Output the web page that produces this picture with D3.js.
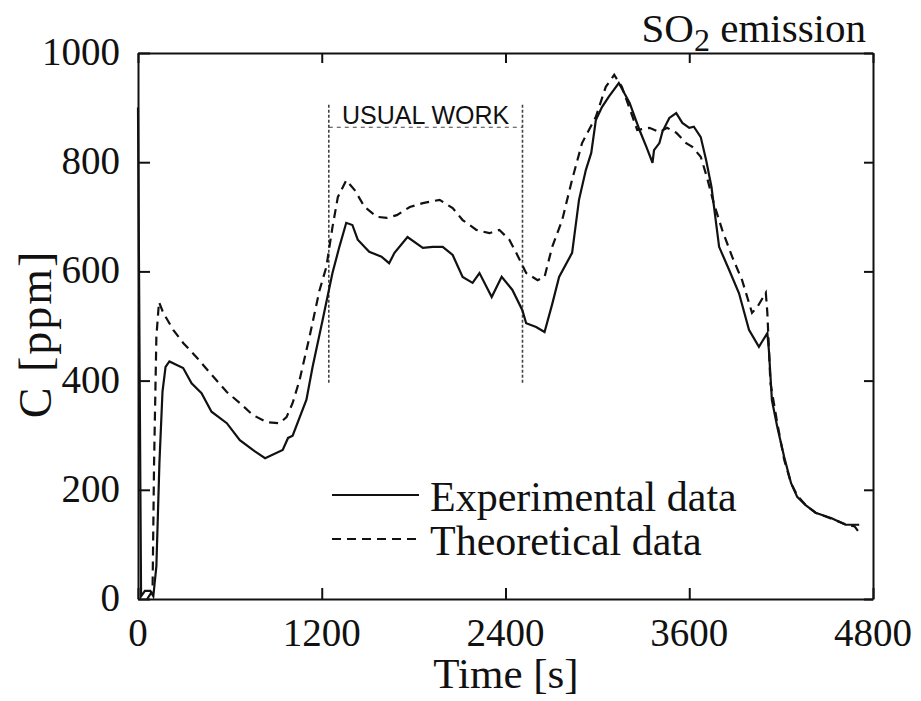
<!DOCTYPE html>
<html>
<head>
<meta charset="utf-8">
<script src="https://cdn.jsdelivr.net/npm/d3@7"></script>
<style>
  body { margin: 0; background: #fff; }
  svg { display: block; }
  .serif { font-family: "Liberation Serif", "DejaVu Serif", serif; fill: #111; }
</style>
</head>
<body>
<svg id="chart" width="921" height="701"></svg>
<script>
// experimental (solid) curve
var timeExp = [0, 20, 45, 80, 100, 120, 140, 160, 180, 205, 295, 350, 415, 480, 580, 665, 750, 830, 945, 980, 1010, 1100, 1140, 1205, 1270, 1315, 1360, 1400, 1435, 1510, 1590, 1640, 1675, 1760, 1860, 1925, 1990, 2055, 2120, 2185, 2230, 2310, 2375, 2445, 2510, 2535, 2600, 2655, 2705, 2750, 2835, 2880, 2925, 2960, 2990, 3030, 3075, 3140, 3210, 3275, 3320, 3360, 3370, 3405, 3425, 3470, 3515, 3555, 3600, 3630, 3675, 3710, 3745, 3795, 3860, 3925, 3990, 4055, 4110, 4120, 4140, 4175, 4220, 4265, 4305, 4360, 4425, 4530, 4620, 4710];
var concExp = [900, 5, 15, 15, 5, 60, 250, 380, 425, 435, 423, 395, 377, 343, 322, 291, 273, 258, 273, 295, 299, 365, 425, 510, 597, 645, 689, 685, 658, 636, 627, 615, 634, 663, 643, 645, 645, 630, 590, 579, 597, 553, 590, 566, 529, 505, 498, 489, 540, 590, 634, 731, 786, 817, 877, 901, 920, 945, 909, 859, 828, 799, 822, 835, 856, 881, 890, 872, 863, 865, 846, 804, 755, 645, 603, 560, 493, 462, 487, 456, 364, 315, 260, 212, 187, 172, 158, 148, 136, 136];

// theoretical (dashed) curve
var timeTheo = [60, 95, 105, 120, 137, 165, 230, 295, 385, 470, 580, 665, 750, 840, 925, 970, 1010, 1055, 1120, 1185, 1230, 1270, 1305, 1360, 1415, 1480, 1560, 1625, 1690, 1775, 1860, 1970, 2055, 2120, 2210, 2295, 2360, 2425, 2470, 2535, 2610, 2655, 2705, 2770, 2835, 2900, 2990, 3055, 3110, 3160, 3230, 3260, 3340, 3405, 3455, 3515, 3580, 3620, 3675, 3715, 3760, 3815, 3880, 3945, 4010, 4045, 4100, 4110, 4130, 4175, 4220, 4265, 4305, 4360, 4425, 4530, 4620, 4680, 4720];
var concTheo = [0, 15, 250, 480, 544, 524, 493, 469, 442, 414, 379, 359, 337, 324, 322, 333, 359, 401, 480, 565, 608, 681, 736, 767, 749, 718, 700, 698, 703, 718, 725, 731, 716, 694, 676, 670, 676, 658, 634, 597, 584, 590, 645, 694, 768, 835, 883, 938, 960, 938, 883, 859, 863, 855, 863, 854, 835, 828, 810, 773, 725, 676, 627, 584, 524, 535, 561, 524, 396, 322, 255, 212, 190, 172, 158, 147, 137, 133, 118];

var xTicks = [0, 1200, 2400, 3600, 4800];
var yTicks = [0, 200, 400, 600, 800, 1000];

// "USUAL WORK" window
var workStart = 1246, workEnd = 2511;
var workTop = 905, workLine = 864, workBottom = 395;

var seriesNames = ["Experimental data", "Theoretical data"];

var svg = d3.select("#chart");

var x = d3.scaleLinear().domain([0, 4800]).range([138, 873]);
var y = d3.scaleLinear().domain([0, 1000]).range([599, 53]);

var expData = timeExp.map(function(t, i){ return {t: t, c: concExp[i]}; });
var theoData = timeTheo.map(function(t, i){ return {t: t, c: concTheo[i]}; });

var line = d3.line()
  .x(function(d){ return x(d.t); })
  .y(function(d){ return y(d.c); });

// frame with inward ticks on all four sides
var axisStyle = function(g){
  g.select(".domain").attr("stroke", "#111").attr("stroke-width", 2);
  g.selectAll(".tick line").attr("stroke", "#111").attr("stroke-width", 2);
  g.selectAll("text").remove();
};

svg.append("g").attr("transform", "translate(0,599)")
  .call(d3.axisBottom(x).tickValues(xTicks).tickSizeInner(-11).tickSizeOuter(0))
  .call(axisStyle);
svg.append("g").attr("transform", "translate(0,53)")
  .call(d3.axisTop(x).tickValues(xTicks).tickSizeInner(-10).tickSizeOuter(0))
  .call(axisStyle);
svg.append("g").attr("transform", "translate(138,0)")
  .call(d3.axisLeft(y).tickValues(yTicks).tickSizeInner(-12).tickSizeOuter(0))
  .call(axisStyle);
svg.append("g").attr("transform", "translate(873,0)")
  .call(d3.axisRight(y).tickValues(yTicks).tickSizeInner(-9).tickSizeOuter(0))
  .call(axisStyle);

// tick labels
svg.selectAll("text.xlab").data(xTicks).enter().append("text")
  .attr("class", "xlab serif")
  .attr("x", function(d){ return x(d); })
  .attr("y", 646)
  .attr("text-anchor", "middle")
  .style("font-size", "39px")
  .text(function(d){ return d; });

svg.selectAll("text.ylab").data(yTicks).enter().append("text")
  .attr("class", "ylab serif")
  .attr("x", 120)
  .attr("y", function(d){ return y(d) + 12; })
  .attr("text-anchor", "end")
  .style("font-size", "39px")
  .text(function(d){ return d; });

// axis titles
svg.append("text").attr("class", "serif")
  .attr("x", 506).attr("y", 688)
  .attr("text-anchor", "middle")
  .style("font-size", "43px")
  .text("Time [s]");

svg.append("text").attr("class", "serif")
  .attr("transform", "translate(51,334) rotate(-90)")
  .attr("text-anchor", "middle")
  .style("font-size", "46px")
  .style("letter-spacing", "2px")
  .text("C [ppm]");

var title = svg.append("text").attr("class", "serif")
  .attr("x", 866).attr("y", 42)
  .attr("text-anchor", "end")
  .style("font-size", "41px");
title.append("tspan").text("SO");
title.append("tspan").attr("dy", 9).style("font-size", "32px").text("2");
title.append("tspan").attr("dy", -9).text(" emission");

// usual work window
var wg = svg.append("g")
  .attr("stroke", "#444")
  .attr("stroke-width", 1.6)
  .attr("stroke-dasharray", "3,2")
  .attr("fill", "none");
[workStart, workEnd].forEach(function(t){
  wg.append("line")
    .attr("x1", x(t)).attr("x2", x(t))
    .attr("y1", y(workTop)).attr("y2", y(workBottom));
});
wg.append("line")
  .attr("x1", x(workStart)).attr("x2", x(workEnd))
  .attr("y1", y(workLine)).attr("y2", y(workLine))
  .attr("stroke-width", 1.2)
  .attr("stroke-dasharray", "4,4");

svg.append("text")
  .attr("x", (x(workStart) + x(workEnd)) / 2)
  .attr("y", 124)
  .attr("text-anchor", "middle")
  .style("font-family", "'Liberation Sans', Arial, sans-serif")
  .style("font-size", "25px")
  .style("fill", "#111")
  .text("USUAL WORK");

// curves
svg.append("path")
  .datum(theoData)
  .attr("d", line)
  .attr("fill", "none")
  .attr("stroke", "#111")
  .attr("stroke-width", 2.2)
  .attr("stroke-dasharray", "9,6");

svg.append("path")
  .datum(expData)
  .attr("d", line)
  .attr("fill", "none")
  .attr("stroke", "#111")
  .attr("stroke-width", 2.2);

// legend
var legend = svg.append("g");
var dashes = [null, "9,6"];
seriesNames.forEach(function(name, i){
  var ly = 495 + i * 44;
  legend.append("line")
    .attr("x1", 332).attr("x2", 419)
    .attr("y1", ly).attr("y2", ly)
    .attr("stroke", "#111")
    .attr("stroke-width", 2)
    .attr("stroke-dasharray", dashes[i]);
  legend.append("text").attr("class", "serif")
    .attr("x", 430).attr("y", ly + 16)
    .style("font-size", "42px")
    .text(name);
});
</script>
</body>
</html>
